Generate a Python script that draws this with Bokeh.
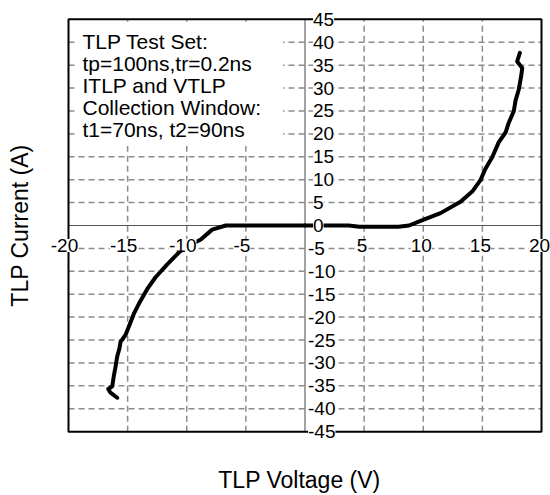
from bokeh.plotting import figure
from bokeh.models import (Range1d, FixedTicker, Label, LinearAxis)
from bokeh.embed import file_html
from bokeh.resources import INLINE

# ---- data ----
# reverse branch (negative voltage), ordered from origin outward
rev_v = [0.0, -5.0, -6.7, -7.85, -8.84, -10.0, -10.67, -11.65, -12.64, -13.35, -14.05,
         -14.48, -14.9, -15.18, -15.6, -15.69, -15.88, -16.02, -16.17, -16.3, -16.64,
         -16.45, -15.88]
rev_i = [0.0, 0.0, 0.0, -0.9, -3.1, -4.6, -5.9, -8.5, -11.3, -13.9, -17.1,
         -19.3, -22.1, -23.9, -25.4, -26.8, -28.6, -30.8, -32.9, -35.1, -35.7,
         -36.5, -37.6]
# forward branch (positive voltage)
fwd_v = [0.0, 3.7, 4.6, 7.9, 8.8, 9.77, 11.46, 13.15, 14.14, 14.84, 15.26, 15.83,
         16.39, 16.96, 17.24, 17.66, 17.8, 18.08, 18.28, 18.37, 17.94, 18.17]
fwd_i = [0.0, 0.0, -0.25, -0.25, 0.0, 1.0, 2.7, 5.2, 7.4, 9.9, 12.4, 14.9,
         18.2, 20.3, 22.5, 25.0, 27.2, 29.7, 32.6, 34.4, 35.8, 37.7]

x_ticks = [-20, -15, -10, -5, 5, 10, 15, 20]
y_ticks = [-45, -40, -35, -30, -25, -20, -15, -10, -5, 0, 5, 10, 15, 20, 25, 30, 35, 40, 45]
x_grid = [-15, -10, -5, 5, 10, 15]
y_grid = [-40, -35, -30, -25, -20, -15, -10, -5, 5, 10, 15, 20, 25, 30, 35, 40]
x_lim = (-20, 20)
y_lim = (-45, 45)

note_lines = ["TLP Test Set:", "tp=100ns,tr=0.2ns", "ITLP and VTLP",
              "Collection Window:", "t1=70ns, t2=90ns"]
x_title = "TLP Voltage (V)"
y_title = "TLP Current (A)"

FONT = "Liberation Sans"

# the frame is a little larger than the drawn box so edge tick labels are not clipped
PX_X = 473 / (x_lim[1] - x_lim[0])   # pixels per volt
PX_Y = 417 / (y_lim[1] - y_lim[0])   # pixels per amp
p = figure(width=550, height=495, output_backend="svg", toolbar_location=None,
           x_range=Range1d(x_lim[0] - 20 / PX_X, x_lim[1] + 9 / PX_X),
           y_range=Range1d(y_lim[0] - 11 / PX_Y, y_lim[1] + 11 / PX_Y),
           x_axis_location=None, y_axis_location=None,
           min_border_left=48, min_border_right=0, min_border_top=8, min_border_bottom=48)
p.background_fill_color = "white"
p.border_fill_color = "white"
p.outline_line_color = None
p.xgrid.visible = False
p.ygrid.visible = False

# dashed grid inside the box
p.segment(x0=x_grid, y0=[y_lim[0]] * len(x_grid), x1=x_grid, y1=[y_lim[1]] * len(x_grid),
          line_color="#8c8c8c", line_width=1.5, line_dash="6 4")
p.segment(x0=[x_lim[0]] * len(y_grid), y0=y_grid, x1=[x_lim[1]] * len(y_grid), y1=y_grid,
          line_color="#8c8c8c", line_width=1.5, line_dash="6 4")

# zero axes through origin
p.segment(x0=[x_lim[0]], y0=[0], x1=[x_lim[1]], y1=[0], line_color="#555555", line_width=1.2)
p.segment(x0=[0], y0=[y_lim[0]], x1=[0], y1=[y_lim[1]], line_color="#666666", line_width=1.2)

# curve
p.line(rev_v, rev_i, line_color="black", line_width=4, line_join="round", line_cap="round")
p.line(fwd_v, fwd_i, line_color="black", line_width=4, line_join="round", line_cap="round")

# box
p.quad(left=[x_lim[0]], right=[x_lim[1]], bottom=[y_lim[0]], top=[y_lim[1]],
       fill_color=None, line_color="black", line_width=2)

# axis titles via axes without ticks
xa = LinearAxis(ticker=FixedTicker(ticks=[]), axis_label=x_title, axis_line_color=None,
                major_tick_out=0, major_tick_in=0, minor_tick_out=0, minor_tick_in=0,
                major_label_standoff=0, axis_label_standoff=24,
                axis_label_text_font=FONT, axis_label_text_font_size="23px",
                axis_label_text_font_style="normal", axis_label_text_color="black")
ya = LinearAxis(ticker=FixedTicker(ticks=[]), axis_label=y_title, axis_line_color=None,
                major_tick_out=0, major_tick_in=0, minor_tick_out=0, minor_tick_in=0,
                major_label_standoff=0, axis_label_standoff=16,
                axis_label_text_font=FONT, axis_label_text_font_size="23px",
                axis_label_text_font_style="normal", axis_label_text_color="black")
p.add_layout(xa, "below")
p.add_layout(ya, "left")

# tick labels on the crossing axes (white-backed, drawn over grid and curve)
for v in x_ticks:
    p.add_layout(Label(x=v, y=0, text=str(v), x_offset=-4 if v < 0 else -2, y_offset=-20,
                       text_align="center", text_baseline="middle", text_font=FONT,
                       text_font_size="19px", text_color="black",
                       background_fill_color="white"))
for v in y_ticks:
    p.add_layout(Label(x=0, y=v, text=str(v), x_offset=3 if v < 0 else 8, text_align="left",
                       text_baseline="middle", text_font=FONT, text_font_size="19px",
                       text_color="black", background_fill_color="white"))

# annotation box
p.add_layout(Label(x=-19.41, y=43.7, text="\n".join(note_lines), text_align="left",
                   text_baseline="top", text_font=FONT, text_font_size="21px",
                   text_line_height=0.95, text_color="black",
                   background_fill_color="white",
                   padding=dict(left=7, right=22, top=5, bottom=5)))

open("out.html", "w").write(file_html(p, INLINE))
